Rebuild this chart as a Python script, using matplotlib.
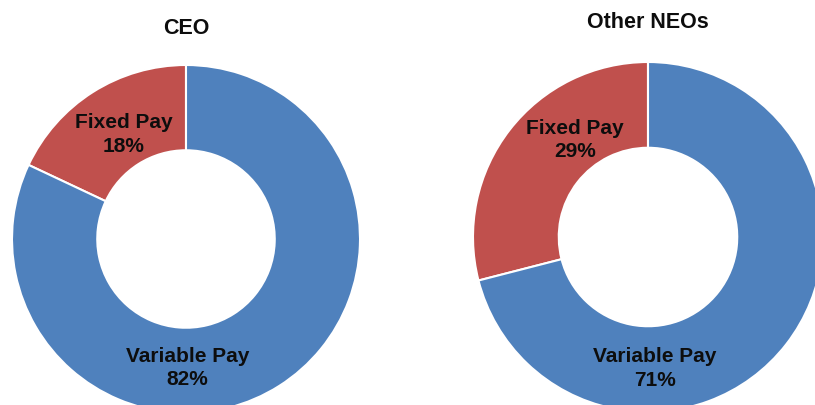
import matplotlib.pyplot as plt

plt.rcParams['font.family'] = ['Liberation Sans', 'DejaVu Sans']

groups = ["CEO", "Other NEOs"]
pay_labels = ["Fixed Pay", "Variable Pay"]
ceo_pct = [18, 82]
neo_pct = [29, 71]

BLUE = "#4F81BD"
RED = "#C0504D"
W, H = 815, 405

fig = plt.figure(figsize=(W / 100, H / 100), dpi=100)
fig.patch.set_facecolor("white")

# (center x, center y from top, radius) in pixels, plus label offsets and title y
layout = [
    dict(cx=186, cy=239, r=174, title_y=28, fixed_xy=(-0.356, 0.60), var_xy=(0.01, -0.74)),
    dict(cx=648, cy=237, r=175, title_y=22, fixed_xy=(-0.417, 0.555), var_xy=(0.04, -0.75)),
]

for title, values, lay in zip(groups, [ceo_pct, neo_pct], layout):
    r = lay["r"]
    ax = fig.add_axes(((lay["cx"] - r) / W, (H - lay["cy"] - r) / H, 2 * r / W, 2 * r / H))
    ax.pie(values, colors=[RED, BLUE], startangle=90, counterclock=True, radius=1,
           wedgeprops=dict(width=0.49, edgecolor="white", linewidth=1.5))
    ax.set_xlim(-1, 1)
    ax.set_ylim(-1, 1)
    ax.axis("off")

    for (x, y), name, v in zip([lay["fixed_xy"], lay["var_xy"]], pay_labels, values):
        ax.text(x, y, f"{name}\n{v}%", ha="center", va="center", fontsize=15,
                fontweight="bold", color="#0d0d0d", linespacing=1.3)

    fig.text(lay["cx"] / W, 1 - lay["title_y"] / H, title, ha="center", va="center",
             fontsize=15.5, fontweight="bold", color="#0d0d0d")

fig.savefig("out.png", dpi=100, facecolor="white")
